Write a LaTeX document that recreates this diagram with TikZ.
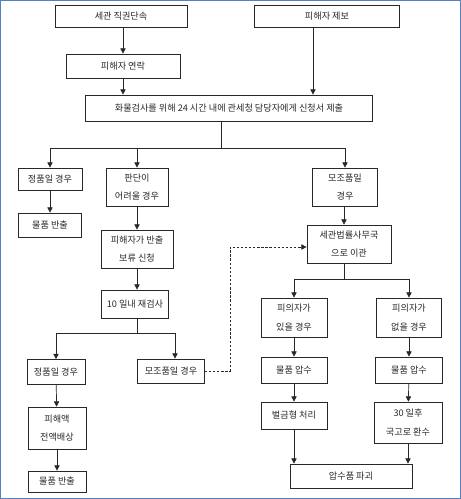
\documentclass[tikz,border=0pt]{standalone}
\usepackage{fontspec}
\setmainfont{Noto Sans CJK KR}
\usetikzlibrary{arrows.meta, positioning, calc}
\definecolor{frame}{RGB}{84,130,190}
\definecolor{ink}{RGB}{40,40,40}

\begin{document}
\begin{tikzpicture}[
      x=0.03cm, y=-0.03cm,
      box/.style={rectangle, draw=ink, line width=0.6pt, text=ink,
                  inner sep=0pt, font=\fontsize{7.8pt}{16pt}\selectfont, align=center},
      arr/.style={-{Triangle[length=4.5pt, width=4.5pt]}, line width=0.6pt, draw=ink},
      link/.style={line width=0.6pt, draw=ink},
      darr/.style={arr, dashed, dash pattern=on 2pt off 1.5pt}
    ]
    \useasboundingbox (0,0) rectangle (461,499);
    \draw[frame, line width=1.2pt] (0.6,0.6) rectangle (460.4,498.4);

    % top row
    \node[box, minimum width=3.96cm, minimum height=0.66cm] (cust) at (121,16) {세관 직권단속};
    \node[box, minimum width=4.35cm, minimum height=0.66cm] (tip) at (327,16) {피해자 제보};
    \node[box, minimum width=3.42cm, minimum height=0.72cm] (contact) at (123,66) {피해자 연락};
    \node[box, minimum width=8.61cm, minimum height=0.78cm] (apply) at (229,108) {화물검사를 위해 24 시간 내에 관세청 담당자에게 신청서 제출};

    % left branch
    \node[box, minimum width=1.92cm, minimum height=0.66cm] (genA) at (50,179) {정품일 경우};
    \node[box, minimum width=1.89cm, minimum height=0.72cm] (outA) at (50,225) {물품 반출};
    \node[box, minimum width=1.86cm, minimum height=1.14cm] (hard) at (137,187) {판단이\\어려울 경우};
    \node[box, minimum width=2.16cm, minimum height=1.14cm] (hold) at (137,249) {피해자가 반출\\보류 신청};
    \node[box, minimum width=2.01cm, minimum height=0.84cm] (recheck) at (135,304) {10 일내 재검사};
    \node[box, minimum width=1.74cm, minimum height=0.75cm] (genB) at (56,372) {정품일 경우};
    \node[box, minimum width=2.01cm, minimum height=0.72cm] (fakeB) at (171,371) {모조품일 경우};
    \node[box, minimum width=1.74cm, minimum height=1.26cm] (comp) at (57,428) {피해액\\전액배상};
    \node[box, minimum width=1.74cm, minimum height=0.63cm] (outB) at (57,481.5) {물품 반출};

    % right branch
    \node[box, minimum width=1.95cm, minimum height=1.14cm] (fakeA) at (345,187) {모조품일\\경우};
    \node[box, minimum width=2.52cm, minimum height=1.14cm] (office) at (349,244) {세관법률사무국\\으로 이관};
    \node[box, minimum width=1.98cm, minimum height=1.17cm] (susp) at (294,317.5) {피의자가\\있을 경우};
    \node[box, minimum width=1.95cm, minimum height=1.17cm] (nosusp) at (409,317.5) {피의자가\\없을 경우};
    \node[box, minimum width=1.98cm, minimum height=0.78cm] (seizeA) at (294,370) {물품 압수};
    \node[box, minimum width=2.01cm, minimum height=0.78cm] (seizeB) at (409,370) {물품 압수};
    \node[box, minimum width=1.98cm, minimum height=0.81cm] (fine) at (294,415.5) {벌금형 처리};
    \node[box, minimum width=2.04cm, minimum height=1.23cm] (treasury) at (408,422.5) {30 일후\\국고로 환수};
    \node[box, minimum width=3.66cm, minimum height=0.72cm] (destroy) at (351,476) {압수품 파괴};

    % branch points
    \coordinate (splitA) at (221,148);
    \coordinate (splitB) at (137,333);
    \coordinate (splitC) at (344,279);
    \coordinate (bend) at (230,247);

    \draw[arr] (cust.south -| contact) -- (contact);
    \draw[arr] ([xshift=-0.42cm]tip.south) -- ([xshift=-0.42cm]tip.south |- apply.north);
    \draw[arr] (contact) -- (apply.north -| contact);

    \draw[link] (apply.south -| splitA) -- (splitA);
    \draw[link] (genA |- splitA) -- (fakeA |- splitA);
    \draw[arr] (genA |- splitA) -- (genA);
    \draw[arr] (hard |- splitA) -- (hard);
    \draw[arr] (fakeA |- splitA) -- (fakeA);

    \draw[arr] (genA) -- (outA);
    \draw[arr] (hard) -- (hold);
    \draw[arr] (hold) -- (hold |- recheck.north);

    \draw[link] (recheck.south -| splitB) -- (splitB);
    \draw[link] (genB |- splitB) -- ([xshift=0.12cm]fakeB.north |- splitB);
    \draw[arr] (genB |- splitB) -- (genB);
    \draw[arr] ([xshift=0.12cm]fakeB.north |- splitB) -- ([xshift=0.12cm]fakeB.north);
    \draw[arr] (genB) -- (comp);
    \draw[arr] (comp) -- (outB);

    \draw[darr] (fakeB.east) -| (bend) -- (bend -| office.west);

    \draw[arr] (fakeA.south -| splitC) -- (office.north -| splitC);
    \draw[link] (office.south -| splitC) -- (splitC);
    \draw[link] (susp |- splitC) -- (nosusp |- splitC);
    \draw[arr] (susp |- splitC) -- (susp);
    \draw[arr] (nosusp |- splitC) -- (nosusp);

    \draw[arr] (susp) -- (seizeA);
    \draw[arr] (seizeA) -- (fine);
    \draw[arr] (fine) -- (fine |- destroy.north);
    \draw[arr] (nosusp) -- (seizeB);
    \draw[arr] (seizeB) -- (treasury);
    \draw[arr] (treasury) -- (treasury |- destroy.north);
  \end{tikzpicture}
\end{document}
